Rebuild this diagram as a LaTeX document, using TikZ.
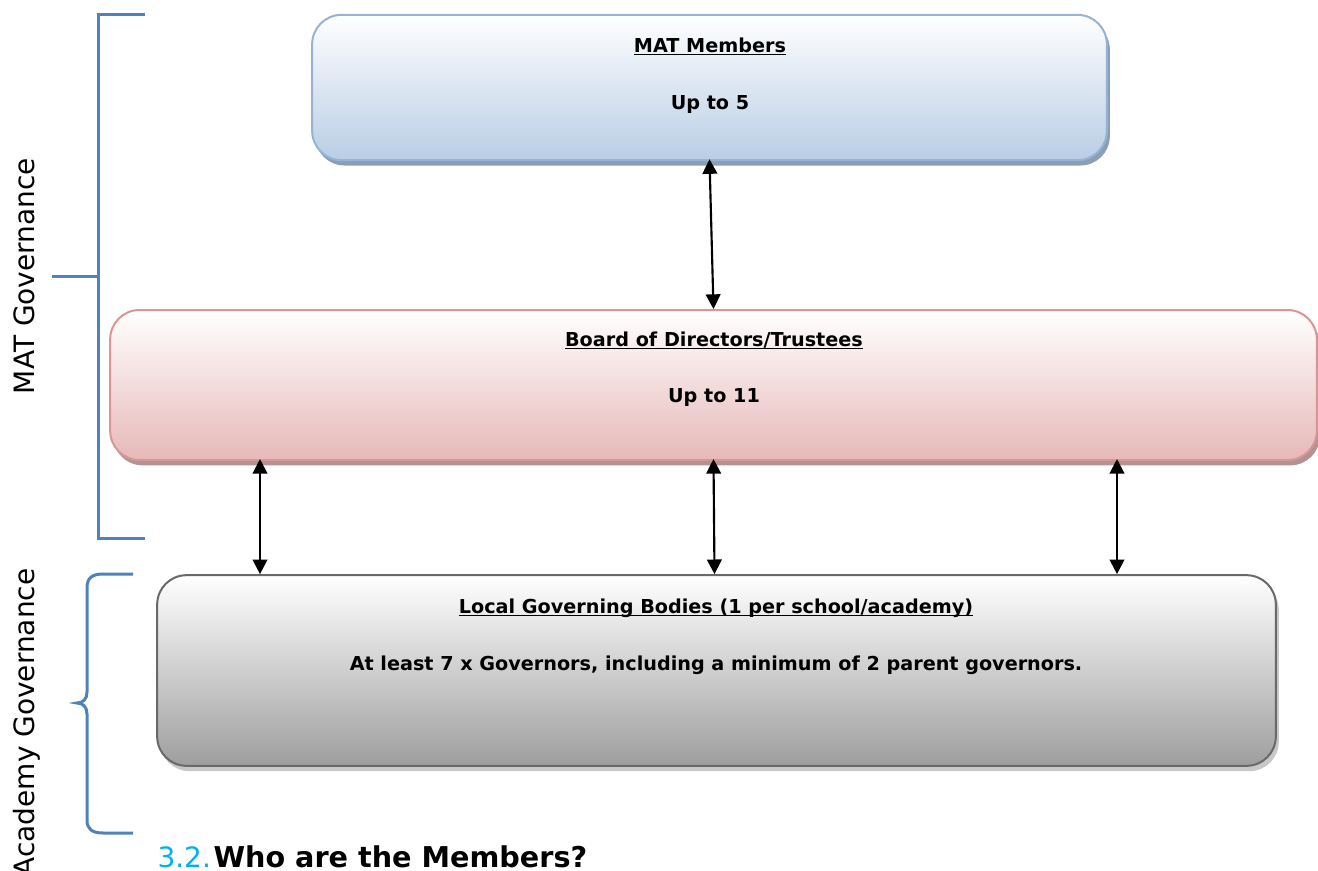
\documentclass[tikz,border=0pt]{standalone}
\usepackage{fontspec}
\setmainfont{DejaVu Sans}
\usetikzlibrary{arrows.meta,shadows}

\definecolor{bracketblue}{RGB}{79,129,189}
\definecolor{headblue}{RGB}{0,176,240}
\definecolor{memberline}{RGB}{149,179,215}
\definecolor{memberfill}{RGB}{185,205,229}
\definecolor{membershade}{RGB}{140,158,182}
\definecolor{boardline}{RGB}{217,150,148}
\definecolor{boardfill}{RGB}{230,185,184}
\definecolor{boardshade}{RGB}{178,146,146}
\definecolor{localline}{RGB}{105,105,105}
\definecolor{localfill}{RGB}{158,158,158}
\definecolor{localshade}{RGB}{200,200,200}

\newcommand{\undertitle}[1]{\setbox0\hbox{#1}\rlap{\rule[-2.6pt]{\wd0}{1.4pt}}\box0}

\tikzset{
	govbox/.style={rounded corners=22pt, line width=1.5pt, draw=#1line,
		shading=axis, top color=white, bottom color=#1fill,
		general shadow={fill=#1shade, shadow xshift=2.25pt, shadow yshift=-4pt}},
	boxtext/.style={font=\bfseries\fontsize{14.4}{16}\selectfont, anchor=base, inner sep=0pt},
	sidelabel/.style={font=\fontsize{21}{24}\selectfont, rotate=90, anchor=base, inner sep=0pt},
	govarrow/.style={{Triangle[length=11pt,width=11pt]}-{Triangle[length=11pt,width=11pt]}, line width=1.6pt},
	bracket/.style={draw=bracketblue, line width=2.25pt}}
\tikzset{every picture/.style={line width=0.75pt}}

\begin{document}
\begin{tikzpicture}[x=0.75pt,y=0.75pt,yscale=-1,xscale=1]
	\useasboundingbox (0,0) rectangle (1318,871);

	%Shape: Rounded Rect [members]
	\node (members) [govbox=member, minimum width=596pt, minimum height=109pt] at (709.5,87.5) {};
	%Shape: Rounded Rect [board]
	\node (board) [govbox=board, minimum width=905pt, minimum height=112.5pt] at (713.5,385) {};
	%Shape: Rounded Rect [local]
	\node (local) [govbox=local, minimum width=839pt, minimum height=143pt] at (716.5,670.5) {};

	% Text Node
	\node (memberstitle) [boxtext] at (710,52) {\undertitle{MAT Members}};
	% Text Node
	\node (membersnum) [boxtext] at (710,109) {Up to 5};
	% Text Node
	\node (boardtitle) [boxtext] at (714,346) {\undertitle{Board of Directors/Trustees}};
	% Text Node
	\node (boardnum) [boxtext] at (714,402) {Up to 11};
	% Text Node
	\node (localtitle) [boxtext] at (716,613) {\undertitle{Local Governing Bodies (1 per school/academy)}};
	% Text Node
	\node (localnum) [boxtext] at (716,670) {At least 7 x Governors, including a minimum of 2 parent governors.};

	%Straight Lines [links]
	\coordinate (leftlink) at (260,0);
	\coordinate (rightlink) at (1117,0);
	\draw [govarrow] ([yshift=-1.5pt]members.south) -- (board.north);
	\draw [govarrow] ([yshift=-1.5pt]board.south -| leftlink) -- (local.north -| leftlink);
	\draw [govarrow] ([yshift=-1.5pt]board.south) -- ([xshift=0.75pt]local.north -| board.south);
	\draw [govarrow] ([yshift=-1.5pt]board.south -| rightlink) -- (local.north -| rightlink);

	%Shape: Bracket [MAT]
	\draw [bracket] (145,14) -- (98,14) -- (98,538) -- (145,538);
	\draw [bracket] (52,276) -- (98,276);
	%Shape: Brace [academy]
	\draw [bracket] (133,574) -- (103,574) .. controls (92,574) and (87,578) .. (87,588) -- (87,692) .. controls (87,699) and (83,703) .. (77,703) .. controls (83,703) and (87,707) .. (87,714) -- (87,820) .. controls (87,829) and (92,833) .. (103,833) -- (133,833);

	% Text Node
	\node (matlabel) [sidelabel] at (35,276) {MAT Governance};
	% Text Node
	\node (academylabel) [sidelabel, anchor=base east] at (35,568) {Academy Governance};

	% Text Node
	\node (headnum) [anchor=base west, inner sep=0pt, text=headblue, font=\fontsize{21}{24}\selectfont] at (157,867) {3.2.};
	% Text Node
	\node (headtitle) [anchor=base west, inner sep=0pt, font=\bfseries\fontsize{21.5}{24}\selectfont] at (213,867) {Who are the Members?};

\end{tikzpicture}
\end{document}
